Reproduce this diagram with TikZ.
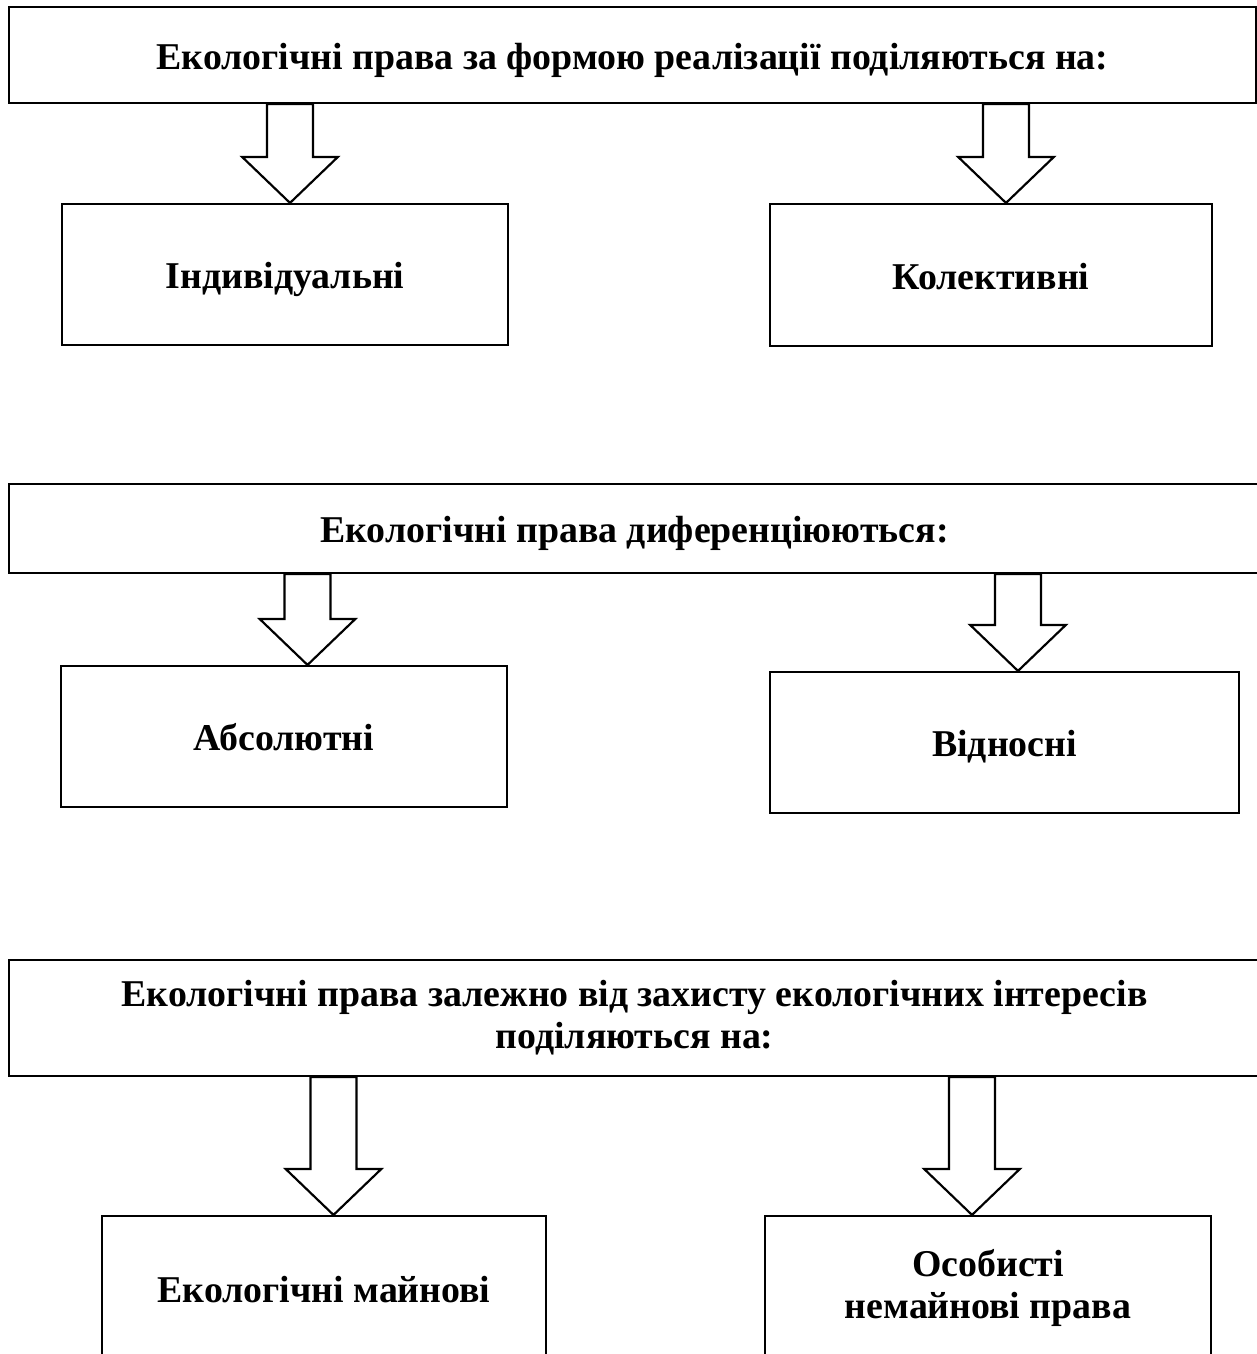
\documentclass[tikz,border=0pt]{standalone}
\usepackage{fontspec}
\setmainfont{Liberation Serif}
\usetikzlibrary{calc}
\tikzset{
    headbox/.style={rectangle, draw=black, line width=0.8pt, inner sep=0pt, align=center,
        text height=10.7pt, text depth=0pt,
        font=\fontsize{14pt}{15.5pt}\selectfont\bfseries},
    kindbox/.style={headbox},
    twolines/.style={text height={}, text depth={}},
    fatarrow/.style={draw=black, fill=white, line width=0.8pt, line join=miter,
        to path={let \p1=(\tikztostart), \p2=(\tikztotarget) in
            (\x1-8.5pt,\y1) -- (\x1-8.5pt,\y2+17pt) -- (\x1-17.7pt,\y2+17pt) -- (\x2,\y2)
            -- (\x1+17.7pt,\y2+17pt) -- (\x1+8.5pt,\y2+17pt) -- (\x1+8.5pt,\y1) -- cycle}}}
\begin{document}
\begin{tikzpicture}[x=0.013cm, y=-0.013cm]
        \useasboundingbox (0,0) rectangle (1257,1354);
        \clip (0,0) rectangle (1257,1354);

            \node[headbox, minimum width=16.211cm, minimum height=1.248cm] (form) at (632.5,55) {Екологічні права за формою реалізації поділяються на:};
            \node[kindbox, minimum width=5.798cm, minimum height=1.833cm] (indiv) at (285,274.5) {Індивідуальні};
            \node[kindbox, minimum width=5.746cm, minimum height=1.846cm] (kolekt) at (991,275) {Колективні};

            \node[headbox, minimum width=16.263cm, minimum height=1.157cm] (dyfer) at (634.5,528.5) {Екологічні права диференціюються:};
            \node[kindbox, minimum width=5.798cm, minimum height=1.833cm] (absol) at (284,736.5) {Абсолютні};
            \node[kindbox, minimum width=6.097cm, minimum height=1.833cm] (vidn) at (1004.5,742.5) {Відносні};

            \node[headbox, twolines, minimum width=16.263cm, minimum height=1.508cm] (zakhyst) at (634.5,1018) {Екологічні права залежно від захисту екологічних інтересів\\поділяються на:};
            \node[kindbox, minimum width=5.772cm, minimum height=1.872cm] (mayn) at (324,1288) {Екологічні майнові};
            \node[kindbox, twolines, minimum width=5.798cm, minimum height=1.872cm] (osob) at (988,1288) {Особисті\\немайнові права};

            \coordinate (c1) at (290,0);
            \coordinate (c2) at (1006,0);
            \coordinate (c3) at (307.5,0);
            \coordinate (c4) at (1018,0);
            \coordinate (c5) at (333.5,0);
            \coordinate (c6) at (972,0);

            \draw[fatarrow] (form.south -| c1) to (indiv.north -| c1);
            \draw[fatarrow] (form.south -| c2) to (kolekt.north -| c2);
            \draw[fatarrow] (dyfer.south -| c3) to (absol.north -| c3);
            \draw[fatarrow] (dyfer.south -| c4) to (vidn.north -| c4);
            \draw[fatarrow] (zakhyst.south -| c5) to (mayn.north -| c5);
            \draw[fatarrow] (zakhyst.south -| c6) to (osob.north -| c6);

        \end{tikzpicture}
\end{document}
